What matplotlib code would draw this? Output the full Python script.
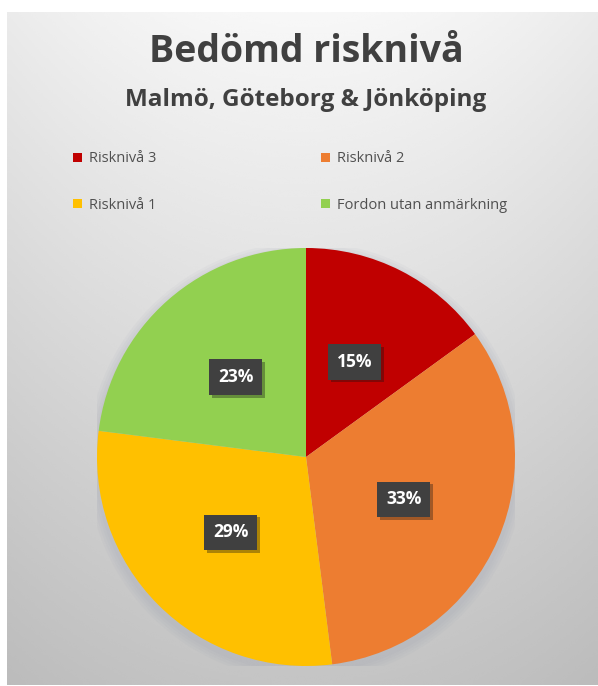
import numpy as np
import matplotlib.pyplot as plt
import matplotlib.patheffects as pe
from matplotlib.patches import Patch, Circle

labels = ["Risknivå 3", "Risknivå 2", "Risknivå 1", "Fordon utan anmärkning"]
shares = [15, 33, 29, 23]
colors = ["#C00000", "#ED7D31", "#FFC000", "#92D050"]

W, H = 598, 686
fig = plt.figure(figsize=(W / 100, H / 100), dpi=100, facecolor="white")

# gradient background of the chart area
bg = fig.add_axes([7 / W, 1 / H, (W - 7) / W, (H - 13) / H])
yy, xx = np.mgrid[0:1:300j, -1:1:300j]
val = 0.97 - 0.20 * yy - 0.05 * (xx ** 2) * (1 - 0.3 * yy)
bg.imshow(val, cmap="gray", vmin=0, vmax=1, aspect="auto", extent=[0, 1, 0, 1],
          origin="upper", interpolation="bicubic")
bg.set_axis_off()

font = ["Open Sans", "DejaVu Sans"]

fig.text(306 / W, 1 - 52 / H, "Bedömd risknivå", ha="center", va="center",
         fontsize=27, fontweight="bold", color="#404040", family=font)
fig.text(306 / W, 1 - 100 / H, "Malmö, Göteborg & Jönköping", ha="center", va="center",
         fontsize=17.5, fontweight="bold", color="#404040", family=font)

cx, cy, r = 306, 457, 209
ax = fig.add_axes([(cx - r) / W, (H - cy - r) / H, 2 * r / W, 2 * r / H])
# soft shadow under the whole pie
for k in range(4):
    ax.add_patch(Circle((0.0, -0.02), 1.0 + 0.012 * (k + 1), facecolor="#8f94a8",
                        edgecolor="none", alpha=0.06, zorder=0))
wedges, _, autotexts = ax.pie(
    shares, colors=colors, startangle=90, counterclock=False,
    autopct=lambda p: f"{p:.0f}%", pctdistance=0.51,
    wedgeprops=dict(linewidth=0),
    textprops=dict(color="white", fontsize=12.5, fontweight="bold", family=font))
for t in autotexts:
    t.set_bbox(dict(boxstyle="square,pad=0.5", facecolor="#404040", edgecolor="none"))
    t.get_bbox_patch().set_path_effects([pe.SimplePatchShadow(offset=(2, -2), alpha=0.35), pe.Normal()])
ax.set_xlim(-1, 1)
ax.set_ylim(-1, 1)

order = [0, 2, 1, 3]
handles = [Patch(facecolor=colors[i]) for i in order]
fig.legend(handles, [labels[i] for i in order], ncol=2, loc="center left",
           bbox_to_anchor=(60 / W, 1 - 182 / H), frameon=False,
           prop=dict(family=font, size=10.5), labelcolor="#505050",
           handlelength=0.6, handleheight=0.6, handletextpad=0.5,
           columnspacing=11.3, labelspacing=2.15)

fig.savefig("out.png", dpi=100, facecolor="white")
